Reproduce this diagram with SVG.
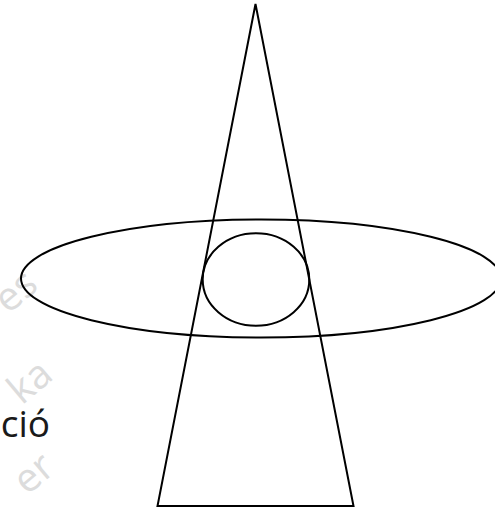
<svg xmlns="http://www.w3.org/2000/svg" width="495" height="512" viewBox="0 0 495 512">
<style>
.shape{fill:none;stroke:#000;stroke-width:2}
</style>
<rect width="495" height="512" fill="#fff"/>
<g id="watermarks" fill="#dcdcdc" text-anchor="end" font-family="Open Sans, Noto Sans, sans-serif" font-size="40">
<text transform="translate(40,288) rotate(-40)">es</text>
<text transform="translate(55,378) rotate(-40)">ka</text>
<text transform="translate(57,471) rotate(-40)">er</text>
</g>
<g id="label"><text x="50" y="437" font-family="Open Sans, Noto Sans, sans-serif" font-size="37" fill="#1a1a1a" text-anchor="end">ció</text></g>
<g id="triangle"><polygon class="shape" points="255.5,4 157.5,506 353.5,506"/></g>
<g id="ellipse"><ellipse class="shape" cx="261" cy="278.5" rx="240" ry="59"/></g>
<g id="circle"><ellipse class="shape" cx="256" cy="279.5" rx="53.3" ry="46.2"/></g>
</svg>
